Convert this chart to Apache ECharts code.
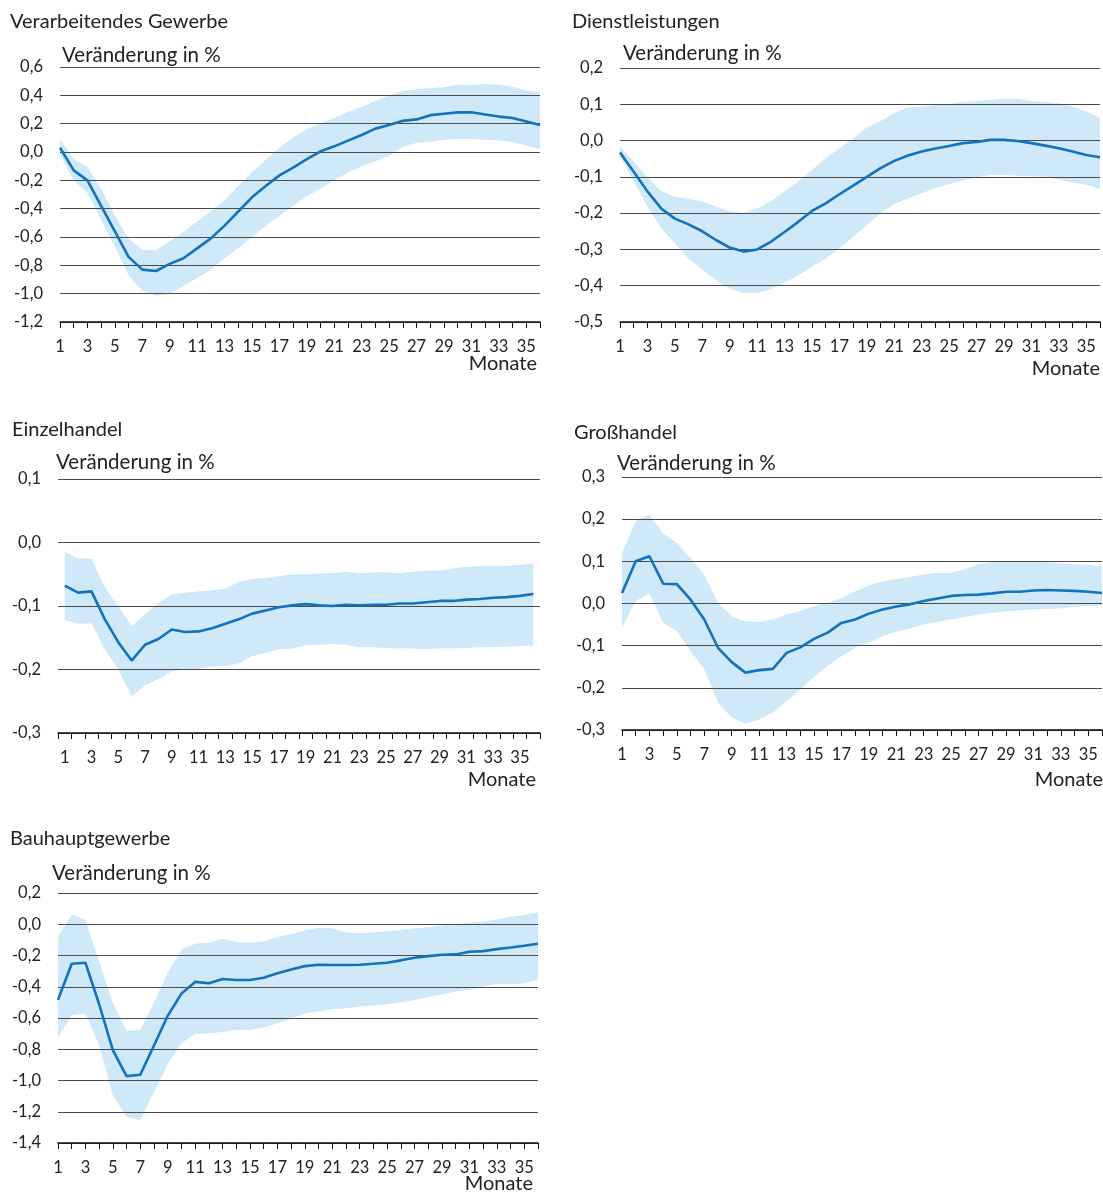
<!DOCTYPE html>
<html>
<head>
<meta charset="utf-8">
<script src="https://cdn.jsdelivr.net/npm/echarts@6/dist/echarts.min.js"></script>
<style>
  html, body { margin: 0; padding: 0; background: #fff; }
  #chart { width: 1103px; height: 1192px; }
</style>
</head>
<body>
<div id="chart"></div>
<script>
// Impulse responses over 36 months: point estimate plus confidence band per sector
const months = [1, 2, 3, 4, 5, 6, 7, 8, 9, 10, 11, 12, 13, 14, 15, 16, 17, 18,
  19, 20, 21, 22, 23, 24, 25, 26, 27, 28, 29, 30, 31, 32, 33, 34, 35, 36];

const sectorNames = ['Verarbeitendes Gewerbe', 'Dienstleistungen', 'Einzelhandel', 'Großhandel', 'Bauhauptgewerbe'];
const unitLabel = 'Veränderung in %';
const xName = 'Monate';

// Verarbeitendes Gewerbe
const manufMid = [0.03, -0.13, -0.20, -0.38, -0.56, -0.74, -0.83, -0.84, -0.79, -0.75, -0.68, -0.61,
  -0.52, -0.42, -0.32, -0.24, -0.165, -0.11, -0.05, 0.005, 0.04, 0.08, 0.12, 0.165,
  0.19, 0.22, 0.23, 0.26, 0.27, 0.28, 0.28, 0.265, 0.25, 0.24, 0.215, 0.19];
const manufHi = [0.09, -0.05, -0.105, -0.26, -0.45, -0.61, -0.69, -0.69, -0.63, -0.565, -0.49, -0.42,
  -0.34, -0.24, -0.145, -0.055, 0.03, 0.105, 0.16, 0.205, 0.24, 0.285, 0.32, 0.36,
  0.40, 0.43, 0.445, 0.45, 0.46, 0.475, 0.475, 0.48, 0.475, 0.46, 0.435, 0.42];
const manufLo = [-0.02, -0.20, -0.29, -0.48, -0.67, -0.87, -0.98, -1.015, -1.0, -0.945, -0.89, -0.83,
  -0.75, -0.68, -0.60, -0.52, -0.45, -0.38, -0.31, -0.26, -0.20, -0.145, -0.10, -0.065,
  -0.025, 0.035, 0.065, 0.07, 0.087, 0.09, 0.09, 0.087, 0.082, 0.07, 0.045, 0.02];

// Dienstleistungen
const servMid = [-0.033, -0.086, -0.14, -0.187, -0.215, -0.231, -0.25, -0.274, -0.295, -0.306, -0.30, -0.279,
  -0.252, -0.224, -0.194, -0.173, -0.148, -0.124, -0.10, -0.076, -0.056, -0.041, -0.03, -0.022,
  -0.015, -0.007, -0.004, 0.002, 0.002, -0.001, -0.007, -0.014, -0.021, -0.03, -0.04, -0.046];
const servHi = [-0.015, -0.058, -0.101, -0.138, -0.155, -0.16, -0.168, -0.182, -0.194, -0.199, -0.187, -0.168,
  -0.14, -0.113, -0.081, -0.049, -0.021, 0.006, 0.037, 0.054, 0.077, 0.092, 0.094, 0.098,
  0.101, 0.106, 0.109, 0.112, 0.115, 0.115, 0.109, 0.106, 0.103, 0.094, 0.08, 0.062];
const servLo = [-0.044, -0.113, -0.182, -0.242, -0.283, -0.325, -0.355, -0.385, -0.408, -0.42, -0.42, -0.41,
  -0.392, -0.371, -0.348, -0.325, -0.297, -0.265, -0.233, -0.20, -0.175, -0.159, -0.145, -0.131,
  -0.12, -0.11, -0.101, -0.095, -0.095, -0.097, -0.098, -0.10, -0.107, -0.116, -0.122, -0.134];

// Einzelhandel
const retailMid = [-0.068, -0.079, -0.077, -0.121, -0.157, -0.186, -0.161, -0.152, -0.137, -0.141, -0.14, -0.135,
  -0.128, -0.121, -0.112, -0.107, -0.102, -0.099, -0.097, -0.099, -0.10, -0.098, -0.099, -0.098,
  -0.098, -0.096, -0.096, -0.094, -0.092, -0.092, -0.09, -0.089, -0.087, -0.086, -0.084, -0.081];
const retailHi = [-0.015, -0.025, -0.025, -0.071, -0.10, -0.132, -0.113, -0.095, -0.082, -0.079, -0.077, -0.075,
  -0.073, -0.062, -0.057, -0.056, -0.053, -0.05, -0.05, -0.049, -0.048, -0.046, -0.049, -0.047,
  -0.047, -0.048, -0.046, -0.044, -0.044, -0.041, -0.038, -0.037, -0.037, -0.037, -0.035, -0.033];
const retailLo = [-0.122, -0.128, -0.127, -0.168, -0.20, -0.242, -0.225, -0.215, -0.203, -0.20, -0.199, -0.195,
  -0.195, -0.19, -0.179, -0.174, -0.168, -0.167, -0.162, -0.161, -0.16, -0.161, -0.165, -0.165,
  -0.166, -0.167, -0.167, -0.168, -0.167, -0.167, -0.166, -0.165, -0.165, -0.164, -0.163, -0.163];

// Großhandel
const wholesaleMid = [0.025, 0.10, 0.112, 0.047, 0.046, 0.009, -0.038, -0.105, -0.139, -0.164, -0.158, -0.155,
  -0.117, -0.104, -0.084, -0.069, -0.046, -0.038, -0.024, -0.014, -0.007, -0.002, 0.006, 0.012,
  0.018, 0.02, 0.021, 0.024, 0.028, 0.028, 0.031, 0.032, 0.031, 0.03, 0.028, 0.025];
const wholesaleHi = [0.12, 0.195, 0.211, 0.166, 0.144, 0.108, 0.069, 0.002, -0.03, -0.042, -0.044, -0.038,
  -0.026, -0.018, -0.006, 0.002, 0.013, 0.029, 0.043, 0.053, 0.058, 0.063, 0.069, 0.073,
  0.073, 0.081, 0.093, 0.098, 0.10, 0.10, 0.099, 0.098, 0.095, 0.093, 0.092, 0.088];
const wholesaleLo = [-0.058, 0.006, 0.024, -0.046, -0.066, -0.113, -0.156, -0.235, -0.271, -0.285, -0.275, -0.259,
  -0.231, -0.204, -0.174, -0.148, -0.125, -0.105, -0.093, -0.077, -0.067, -0.059, -0.05, -0.044,
  -0.038, -0.032, -0.026, -0.022, -0.019, -0.016, -0.014, -0.013, -0.011, -0.008, -0.006, -0.005];

// Bauhauptgewerbe
const constrMid = [-0.484, -0.253, -0.246, -0.512, -0.805, -0.972, -0.963, -0.776, -0.586, -0.444, -0.369, -0.378,
  -0.35, -0.357, -0.357, -0.342, -0.314, -0.289, -0.268, -0.259, -0.261, -0.261, -0.259, -0.253,
  -0.246, -0.231, -0.214, -0.204, -0.195, -0.193, -0.176, -0.172, -0.159, -0.149, -0.138, -0.125];
const constrHi = [-0.081, 0.062, 0.025, -0.236, -0.501, -0.682, -0.677, -0.501, -0.31, -0.161, -0.125, -0.119,
  -0.093, -0.113, -0.119, -0.108, -0.081, -0.062, -0.038, -0.023, -0.025, -0.051, -0.057, -0.051,
  -0.045, -0.036, -0.025, -0.019, -0.008, 0.004, 0.008, 0.017, 0.03, 0.049, 0.059, 0.076];
const constrLo = [-0.728, -0.58, -0.569, -0.776, -1.095, -1.234, -1.255, -1.074, -0.894, -0.76, -0.703, -0.698,
  -0.69, -0.677, -0.677, -0.66, -0.633, -0.603, -0.571, -0.558, -0.544, -0.537, -0.527, -0.52,
  -0.512, -0.501, -0.484, -0.467, -0.448, -0.431, -0.42, -0.397, -0.384, -0.384, -0.378, -0.357];

// Y-axis scales per panel
const yScales = [
  { min: -1.2, max: 0.6, interval: 0.2 },
  { min: -0.5, max: 0.2, interval: 0.1 },
  { min: -0.3, max: 0.1, interval: 0.1 },
  { min: -0.3, max: 0.3, interval: 0.1 },
  { min: -1.4, max: 0.2, interval: 0.2 }
];

const seriesSets = [
  [manufMid, manufLo, manufHi],
  [servMid, servLo, servHi],
  [retailMid, retailLo, retailHi],
  [wholesaleMid, wholesaleLo, wholesaleHi],
  [constrMid, constrLo, constrHi]
];

// Layout of the five small panels
const layout = [
  { grid: { left: 60, top: 67, width: 480, height: 255 }, gap: false,
    title: [10, 22], unit: [62, 55], xname: [537, 364] },
  { grid: { left: 620, top: 68, width: 480, height: 254 }, gap: false,
    title: [572, 22], unit: [623, 53], xname: [1100, 369] },
  { grid: { left: 58, top: 479, width: 482, height: 254 }, gap: true,
    title: [12, 430], unit: [56, 462], xname: [536, 780] },
  { grid: { left: 622, top: 477, width: 480, height: 253 }, gap: false,
    title: [574, 433], unit: [617, 463], xname: [1103, 780] },
  { grid: { left: 58, top: 893, width: 480, height: 250 }, gap: false,
    title: [10, 839], unit: [52, 873], xname: [533, 1184] }
];

const FONT = 'Lato, "Noto Sans", sans-serif';
const TEXT = '#222';
const LINE_BLUE = '#1272bb';
const BAND_BLUE = '#cfe9f8';
const GRID_LINE = '#4a4a4a';

const fmt = v => v.toFixed(1).replace('.', ',').replace(/^-0,0$/, '0,0');

const grids = [], xAxes = [], yAxes = [], series = [], graphics = [];

layout.forEach((L, i) => {
  grids.push(Object.assign({ containLabel: false }, L.grid));
  xAxes.push({
    type: 'category', gridIndex: i, data: months, boundaryGap: L.gap, z: 2,
    axisLine: { show: true, onZero: false, lineStyle: { color: '#111', width: 1.5 } },
    axisTick: { show: true, interval: 0, length: 6, lineStyle: { color: '#111', width: 1 } },
    axisLabel: { interval: 1, margin: 16, fontSize: 16.5, color: TEXT, fontFamily: FONT },
    splitLine: { show: false }
  });
  const s = yScales[i];
  // grid lines sit above the band but below the estimate line
  yAxes.push({
    type: 'value', gridIndex: i, min: s.min, max: s.max, interval: s.interval, z: 1,
    axisLine: { show: false }, axisTick: { show: false },
    axisLabel: { margin: 17, fontSize: 16.5, color: TEXT, fontFamily: FONT, formatter: fmt },
    splitLine: { show: true, lineStyle: { color: GRID_LINE, width: 1.2 } }
  });
  const [mid, lo, hi] = seriesSets[i];
  const stackId = 'band' + i;
  // lower bound (invisible) and band width stacked on top of it
  series.push({
    type: 'line', xAxisIndex: i, yAxisIndex: i, data: lo, stack: stackId, stackStrategy: 'all',
    symbol: 'none', lineStyle: { opacity: 0 }, silent: true, z: 0
  });
  series.push({
    type: 'line', xAxisIndex: i, yAxisIndex: i, stack: stackId, stackStrategy: 'all',
    data: hi.map((h, k) => +(h - lo[k]).toFixed(4)),
    symbol: 'none', lineStyle: { opacity: 0 }, areaStyle: { color: BAND_BLUE, opacity: 1 },
    silent: true, z: 0
  });
  series.push({
    type: 'line', xAxisIndex: i, yAxisIndex: i, data: mid, symbol: 'none',
    lineStyle: { color: LINE_BLUE, width: 2.6 }, z: 3
  });
  graphics.push({
    type: 'text', left: L.title[0], top: L.title[1] - 10,
    style: { text: sectorNames[i], font: '20px ' + FONT, fill: TEXT }
  });
  graphics.push({
    type: 'text', left: L.unit[0], top: L.unit[1] - 10,
    style: { text: unitLabel, font: '20.5px ' + FONT, fill: TEXT }
  });
  graphics.push({
    type: 'text', right: 1103 - L.xname[0], top: L.xname[1] - 10,
    style: { text: xName, font: '20px ' + FONT, fill: TEXT }
  });
});

const chart = echarts.init(document.getElementById('chart'), null, { renderer: 'canvas' });
chart.setOption({
  animation: false,
  backgroundColor: '#fff',
  grid: grids,
  xAxis: xAxes,
  yAxis: yAxes,
  series: series,
  graphic: graphics
});
</script>
</body>
</html>
